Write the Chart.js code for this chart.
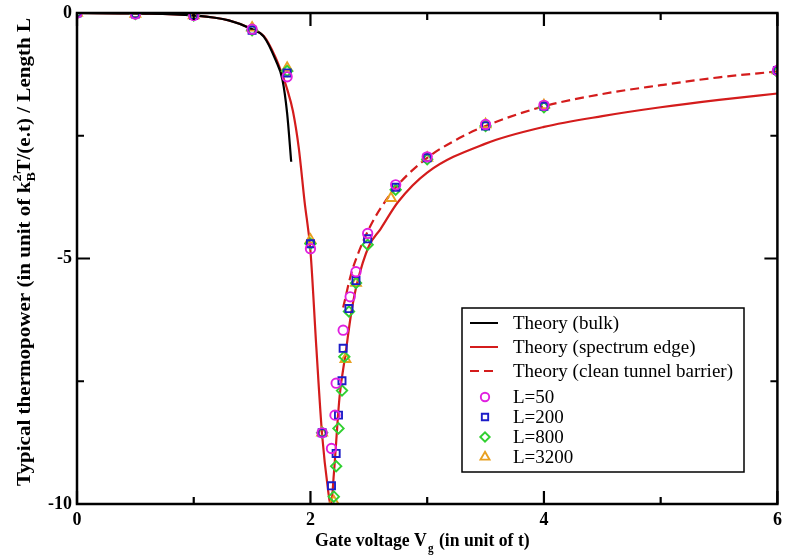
<!DOCTYPE html>
<html>
<head>
<meta charset="utf-8">
<script src="https://cdn.jsdelivr.net/npm/chart.js@4"></script>
<style>
    html, body { margin: 0; padding: 0; background: #fff; }
</style>
</head>
<body>
<canvas id="thermopower" width="785" height="559"></canvas>
<script>
// theory curves
const bulkX = [0, 0.5, 1, 1.3, 1.5, 1.6, 1.7, 1.76, 1.8, 1.835];
const bulkY = [0, -0.01, -0.05, -0.15, -0.33, -0.48, -0.95, -1.36, -2.04, -3.03];

const edgeX = [0, 0.5, 1, 1.3, 1.5, 1.6, 1.7, 1.75, 1.8, 1.85, 1.9, 1.95, 2.0, 2.05, 2.1, 2.15, 2.175,
    2.2, 2.25, 2.3, 2.35, 2.4, 2.5, 2.6, 2.75, 3, 3.5, 4, 4.5, 5, 5.5, 6];
const edgeY = [0, -0.01, -0.05, -0.15, -0.33, -0.47, -0.9, -1.2, -1.55, -2.0, -2.75, -3.85, -4.85, -6.8, -8.6, -9.7, -10.05,
    -9.4, -7.8, -6.95, -6.1, -5.5, -4.75, -4.4, -3.85, -3.25, -2.66, -2.32, -2.1, -1.92, -1.77, -1.64];

const barrierX = [2.28, 2.35, 2.4, 2.5, 2.6, 2.75, 3, 3.25, 3.5, 4, 4.5, 5, 5.5, 6];
const barrierY = [-6.0, -5.3, -4.95, -4.4, -3.98, -3.5, -2.95, -2.58, -2.3, -1.9, -1.65, -1.47, -1.31, -1.19];

// simulations
const l50X = [0, 0.5, 1, 1.5, 1.8, 2.0, 2.1, 2.18, 2.21, 2.22, 2.28, 2.34, 2.39, 2.49, 2.73, 3, 3.5, 4, 6];
const l50Y = [0, -0.02, -0.05, -0.33, -1.3, -4.8, -8.55, -8.87, -8.19, -7.54, -6.46, -5.78, -5.27, -4.49, -3.5, -2.93, -2.27, -1.88, -1.17];

const l200X = [0, 0.5, 1, 1.5, 1.8, 2.0, 2.1, 2.18, 2.22, 2.24, 2.27, 2.28, 2.33, 2.39, 2.49, 2.73, 3, 3.5, 4, 6];
const l200Y = [0, -0.02, -0.05, -0.35, -1.22, -4.7, -8.55, -9.63, -8.97, -8.19, -7.49, -6.83, -6.02, -5.45, -4.6, -3.55, -2.95, -2.3, -1.9, -1.17];

const l800X = [0, 0.5, 1, 1.5, 1.8, 2.0, 2.1, 2.2, 2.22, 2.24, 2.27, 2.29, 2.33, 2.39, 2.49, 2.73, 3, 3.5, 4, 6];
const l800Y = [0, -0.02, -0.05, -0.35, -1.18, -4.7, -8.55, -9.85, -9.23, -8.46, -7.69, -7.0, -6.08, -5.5, -4.72, -3.6, -2.98, -2.3, -1.92, -1.2];

const l3200X = [0, 0.5, 1, 1.5, 1.8, 2.0, 2.1, 2.2, 2.3, 2.39, 2.69, 3, 3.5, 4, 6];
const l3200Y = [0, -0.02, -0.05, -0.3, -1.12, -4.62, -8.55, -9.95, -7.05, -5.5, -3.77, -2.95, -2.27, -1.88, -1.17];

const xTicks = [0, 2, 4, 6];
const yTicks = [0, -5, -10];

const legendNames = ['Theory (bulk)', 'Theory (spectrum edge)', 'Theory (clean tunnel barrier)',
    'L=50', 'L=200', 'L=800', 'L=3200'];

const serif = '"Liberation Serif", "DejaVu Serif", serif';
const red = '#d41c1c';

function pts(xs, ys) {
    return xs.map((x, i) => ({ x: x, y: ys[i] }));
}

function lineSet(label, xs, ys, color, dash) {
    return {
        label: label,
        data: pts(xs, ys),
        showLine: true,
        borderColor: color,
        borderWidth: 2.2,
        borderDash: dash,
        pointRadius: 0,
        cubicInterpolationMode: 'monotone',
        order: 2,
    };
}

function markSet(label, xs, ys, color, style, r) {
    return {
        label: label,
        data: pts(xs, ys),
        showLine: false,
        pointStyle: style,
        pointRadius: r,
        pointBorderColor: color,
        pointBackgroundColor: 'rgba(0,0,0,0)',
        pointBorderWidth: 1.9,
        borderColor: color,
        order: 1,
    };
}

// draw text squeezed/stretched along its direction
function fitText(ctx, str, x, y, font, scaleX) {
    ctx.save();
    ctx.font = font;
    ctx.translate(x, y);
    ctx.scale(scaleX, 1);
    ctx.fillText(str, 0, 0);
    const w = ctx.measureText(str).width;
    ctx.restore();
    return w * scaleX;
}

const framePlugin = {
    id: 'frame',
    afterDatasetsDraw(chart) {
        const ctx = chart.ctx;
        const a = chart.chartArea;
        const xs = chart.scales.x;
        const ys = chart.scales.y;
        ctx.save();
        ctx.strokeStyle = '#000';
        ctx.lineWidth = 2.2;
        // inward ticks on all four sides
        const xMajor = [0, 2, 4, 6], xMinor = [1, 3, 5];
        const yMajor = [0, -5, -10], yMinor = [-2.5, -7.5];
        ctx.beginPath();
        xMajor.concat(xMinor).forEach((v) => {
            const len = xMajor.includes(v) ? 13 : 7;
            const px = xs.getPixelForValue(v);
            ctx.moveTo(px, a.bottom); ctx.lineTo(px, a.bottom - len);
            ctx.moveTo(px, a.top); ctx.lineTo(px, a.top + len);
        });
        yMajor.concat(yMinor).forEach((v) => {
            const len = yMajor.includes(v) ? 13 : 7;
            const py = ys.getPixelForValue(v);
            ctx.moveTo(a.left, py); ctx.lineTo(a.left + len, py);
            ctx.moveTo(a.right, py); ctx.lineTo(a.right - len, py);
        });
        ctx.stroke();
        ctx.lineWidth = 2.5;
        ctx.strokeRect(a.left, a.top, a.right - a.left, a.bottom - a.top);

        // legend
        const lx = 462, ly = 308, lw = 282, lh = 164;
        ctx.fillStyle = '#fff';
        ctx.fillRect(lx, ly, lw, lh);
        ctx.lineWidth = 1.5;
        ctx.strokeRect(lx, ly, lw, lh);
        const rows = [323, 347, 371, 397, 417, 437, 457];
        const sets = chart.data.datasets;
        ctx.textBaseline = 'middle';
        legendNames.forEach((name, i) => {
            const ds = sets[i];
            const y = rows[i];
            if (i < 3) {
                ctx.beginPath();
                ctx.strokeStyle = ds.borderColor;
                ctx.lineWidth = 2;
                ctx.setLineDash(ds.borderDash || []);
                ctx.moveTo(470, y); ctx.lineTo(498, y);
                ctx.stroke();
                ctx.setLineDash([]);
            } else {
                ctx.fillStyle = 'rgba(0,0,0,0)';
                ctx.strokeStyle = ds.pointBorderColor;
                ctx.lineWidth = ds.pointBorderWidth;
                Chart.helpers.drawPoint(ctx, {
                    pointStyle: ds.pointStyle,
                    radius: ds.pointRadius - 0.5,
                    borderWidth: ds.pointBorderWidth,
                }, 485, y);
            }
            ctx.fillStyle = '#000';
            ctx.font = '19px ' + serif;
            ctx.fillText(name, 513, y + 1);
        });

        // axis titles with sub/superscripts
        ctx.fillStyle = '#000';
        ctx.textBaseline = 'alphabetic';
        const bold = 'bold 18px ' + serif;
        const small = 'bold 12px ' + serif;
        const sx = 0.93;
        let x = 315;
        const by = 546;
        x += fitText(ctx, 'Gate voltage V', x, by, 'bold 19px ' + serif, sx);
        x += fitText(ctx, 'g', x + 1, by + 6, small, sx) + 2;
        fitText(ctx, ' (in unit of t)', x, by, 'bold 19px ' + serif, sx);

        ctx.save();
        ctx.translate(30, 486);
        ctx.rotate(-Math.PI / 2);
        const ysx = 1.17;
        let t = 0;
        t += fitText(ctx, 'Typical thermopower (in unit of k', t, 0, bold, ysx);
        fitText(ctx, 'B', t, 5, small, ysx);
        t += fitText(ctx, '2', t, -9, small, ysx) + 1;
        fitText(ctx, 'T/(e.t) / Length L', t, 0, bold, ysx);
        ctx.restore();
        ctx.restore();
    },
};

const ctx = document.getElementById('thermopower');
const myChart = new Chart(ctx, {
    type: 'scatter',
    data: {
        datasets: [
            lineSet('Theory (bulk)', bulkX, bulkY, '#000', []),
            lineSet('Theory (spectrum edge)', edgeX, edgeY, red, []),
            lineSet('Theory (clean tunnel barrier)', barrierX, barrierY, red, [9, 5]),
            markSet('L=50', l50X, l50Y, '#e020e0', 'circle', 4.7),
            markSet('L=200', l200X, l200Y, '#1c1cc8', 'rect', 5),
            markSet('L=800', l800X, l800Y, '#30d030', 'rectRot', 5.2),
            markSet('L=3200', l3200X, l3200Y, '#e8a020', 'triangle', 5.7),
        ],
    },
    options: {
        responsive: false,
        animation: false,
        layout: { padding: { left: 0, right: 6, top: 13, bottom: 0 } },
        plugins: {
            legend: { display: false },
            tooltip: { enabled: false },
        },
        scales: {
            x: {
                type: 'linear',
                min: 0,
                max: 6,
                afterFit: (s) => { s.height = 55; s.paddingLeft = 0; s.paddingRight = 0; },
                afterBuildTicks: (s) => { s.ticks = xTicks.map((v) => ({ value: v })); },
                grid: { display: false, drawTicks: false, tickLength: 0 },
                border: { display: false },
                ticks: { color: '#000', padding: 6, font: { family: serif, size: 18, weight: 'bold' } },
            },
            y: {
                type: 'linear',
                min: -10,
                max: 0,
                afterFit: (s) => { s.width = 77; s.paddingTop = 0; s.paddingBottom = 0; },
                afterBuildTicks: (s) => { s.ticks = yTicks.map((v) => ({ value: v })); },
                grid: { display: false, drawTicks: false, tickLength: 0 },
                border: { display: false },
                ticks: { color: '#000', padding: 5, font: { family: serif, size: 18, weight: 'bold' } },
            },
        },
    },
    plugins: [framePlugin],
});
</script>
</body>
</html>
